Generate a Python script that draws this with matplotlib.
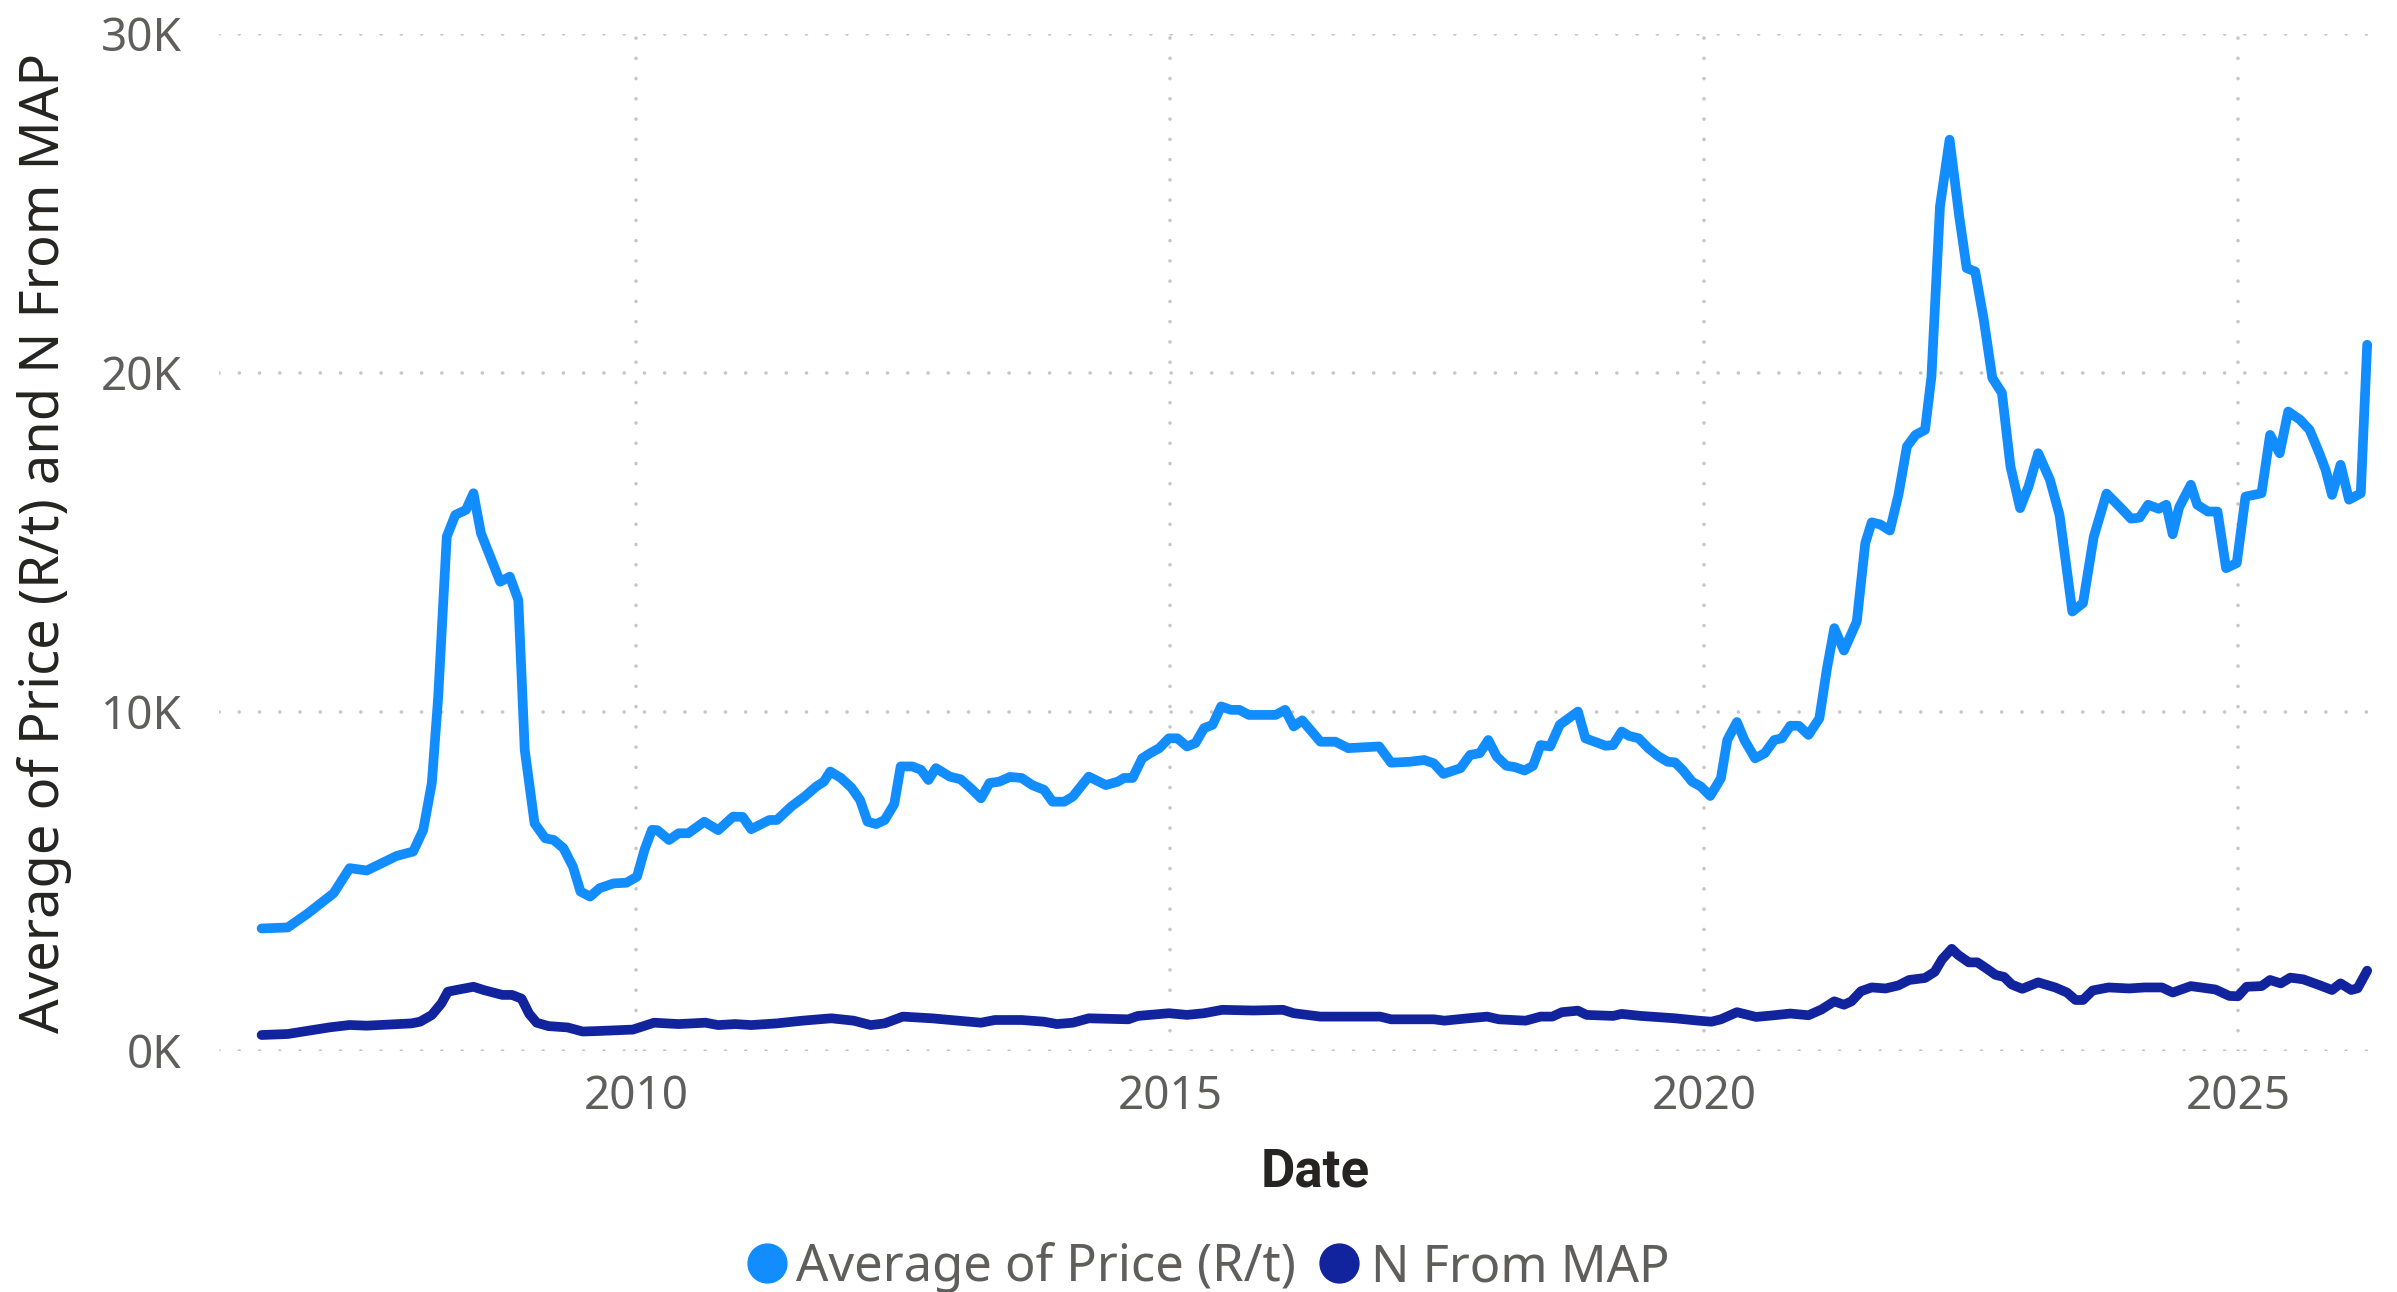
import matplotlib
matplotlib.use("Agg")
import matplotlib.pyplot as plt
import matplotlib.dates as mdates
from matplotlib.lines import Line2D
import pandas as pd

# PRICE (R/t) - vertices, x in decimal years
price_year = [
    2006.495, 2006.74, 2006.93, 2007.17, 2007.32, 2007.48, 2007.76, 2007.915,
    2008.01, 2008.09, 2008.15, 2008.23, 2008.31, 2008.41, 2008.48, 2008.55,
    2008.73, 2008.82, 2008.90, 2008.96, 2009.05, 2009.15, 2009.23, 2009.32,
    2009.41, 2009.48, 2009.57, 2009.66, 2009.79, 2009.91, 2010.01, 2010.08,
    2010.15, 2010.20, 2010.31, 2010.40, 2010.49, 2010.64, 2010.77, 2010.91,
    2011.00, 2011.08, 2011.25, 2011.32, 2011.46, 2011.58, 2011.69, 2011.76,
    2011.82, 2011.92, 2012.02, 2012.10, 2012.17, 2012.25, 2012.33, 2012.42,
    2012.48, 2012.59, 2012.67, 2012.74, 2012.81, 2012.94, 2013.04, 2013.15,
    2013.23, 2013.31, 2013.40, 2013.50, 2013.61, 2013.71, 2013.82, 2013.90,
    2014.01, 2014.09, 2014.24, 2014.40, 2014.51, 2014.57, 2014.65, 2014.74,
    2014.82, 2014.90, 2014.99, 2015.07, 2015.16, 2015.24, 2015.32, 2015.40,
    2015.48, 2015.57, 2015.65, 2015.74, 2015.99, 2016.08, 2016.16, 2016.24,
    2016.41, 2016.55, 2016.67, 2016.96, 2017.07, 2017.25, 2017.38, 2017.47,
    2017.56, 2017.72, 2017.81, 2017.90, 2017.98, 2018.06, 2018.15, 2018.23,
    2018.32, 2018.40, 2018.47, 2018.56, 2018.65, 2018.82, 2018.89, 2019.08,
    2019.15, 2019.23, 2019.30, 2019.39, 2019.48, 2019.57, 2019.66, 2019.73,
    2019.80, 2019.89, 2019.97, 2020.06, 2020.16, 2020.22, 2020.31, 2020.38,
    2020.48, 2020.57, 2020.66, 2020.73, 2020.81, 2020.89, 2020.98, 2021.08,
    2021.15, 2021.22, 2021.31, 2021.43, 2021.51, 2021.57, 2021.65, 2021.74,
    2021.82, 2021.90, 2021.98, 2022.07, 2022.13, 2022.21, 2022.30, 2022.39,
    2022.46, 2022.54, 2022.62, 2022.70, 2022.79, 2022.87, 2022.96, 2023.04,
    2023.13, 2023.24, 2023.33, 2023.45, 2023.55, 2023.65, 2023.77, 2023.90,
    2024.00, 2024.08, 2024.16, 2024.26, 2024.33, 2024.39, 2024.45, 2024.56,
    2024.62, 2024.72, 2024.81, 2024.89, 2024.99, 2025.07, 2025.22, 2025.30,
    2025.39, 2025.47, 2025.58, 2025.67, 2025.76, 2025.82, 2025.88, 2025.96,
    2026.04, 2026.15, 2026.21,
]
price = [
    3600, 3630, 4050, 4640, 5380, 5310, 5740, 5870,
    6510, 7890, 10440, 15160, 15800, 15950, 16440, 15260,
    13830, 13980, 13290, 8870, 6700, 6260, 6210, 5970,
    5420, 4690, 4540, 4790, 4930, 4950, 5130, 5920,
    6510, 6500, 6210, 6410, 6410, 6750, 6500, 6900,
    6890, 6530, 6800, 6800, 7210, 7490, 7790, 7930,
    8230, 8040, 7750, 7390, 6750, 6680, 6800, 7270,
    8380, 8380, 8280, 7980, 8330, 8080, 8000, 7690,
    7440, 7890, 7930, 8070, 8040, 7830, 7690, 7340,
    7340, 7490, 8080, 7830, 7930, 8040, 8040, 8620,
    8780, 8920, 9210, 9210, 8970, 9070, 9510, 9610,
    10150, 10050, 10050, 9900, 9900, 10050, 9560, 9740,
    9110, 9110, 8920, 8970, 8490, 8520, 8570, 8470,
    8160, 8330, 8720, 8770, 9160, 8670, 8400, 8360,
    8260, 8400, 9010, 8970, 9610, 10000, 9210, 8990,
    9010, 9410, 9280, 9210, 8920, 8690, 8520, 8500,
    8280, 7930, 7790, 7510, 8030, 9160, 9690, 9160,
    8620, 8770, 9160, 9210, 9580, 9580, 9310, 9800,
    11250, 12460, 11800, 12650, 14970, 15580, 15520, 15340,
    16390, 17820, 18160, 18310, 19880, 24900, 26870, 24610,
    23080, 22980, 21560, 19840, 19400, 17230, 16000, 16640,
    17620, 16840, 15800, 12950, 13200, 15150, 16430, 16020,
    15690, 15720, 16100, 15980, 16100, 15230, 16020, 16690,
    16100, 15900, 15900, 14230, 14380, 16340, 16440, 18160,
    17620, 18850, 18610, 18310, 17630, 17130, 16390, 17280,
    16250, 16440, 20820,
]

# N FROM MAP
n_year = [
    2006.495, 2006.74, 2007.135, 2007.32, 2007.48, 2007.90, 2007.98, 2008.09,
    2008.18, 2008.24, 2008.32, 2008.48, 2008.58, 2008.75, 2008.84, 2008.93,
    2009.00, 2009.07, 2009.18, 2009.36, 2009.50, 2009.65, 2009.97, 2010.17,
    2010.40, 2010.65, 2010.77, 2010.93, 2011.08, 2011.32, 2011.56, 2011.83,
    2012.04, 2012.20, 2012.33, 2012.50, 2012.77, 2013.02, 2013.23, 2013.36,
    2013.61, 2013.82, 2013.94, 2014.09, 2014.24, 2014.61, 2014.70, 2014.99,
    2015.16, 2015.32, 2015.49, 2015.78, 2016.06, 2016.16, 2016.41, 2016.97,
    2017.07, 2017.47, 2017.57, 2017.79, 2017.97, 2018.08, 2018.33, 2018.47,
    2018.58, 2018.67, 2018.82, 2018.90, 2019.15, 2019.23, 2019.41, 2019.73,
    2019.95, 2020.07, 2020.16, 2020.31, 2020.49, 2020.66, 2020.81, 2020.98,
    2021.10, 2021.22, 2021.31, 2021.38, 2021.47, 2021.57, 2021.70, 2021.82,
    2021.92, 2022.07, 2022.16, 2022.23, 2022.32, 2022.38, 2022.48, 2022.56,
    2022.65, 2022.73, 2022.81, 2022.88, 2022.98, 2023.13, 2023.29, 2023.40,
    2023.48, 2023.55, 2023.64, 2023.79, 2023.98, 2024.13, 2024.29, 2024.39,
    2024.56, 2024.79, 2024.92, 2025.00, 2025.08, 2025.22, 2025.30, 2025.40,
    2025.49, 2025.61, 2025.76, 2025.88, 2025.96, 2026.06, 2026.12, 2026.21,
]
n_map = [
    457, 487, 684, 752, 732, 800, 850, 1048,
    1390, 1735, 1785, 1880, 1780, 1640, 1640, 1530,
    1080, 820, 720, 680, 560, 575, 617, 820,
    780, 820, 750, 780, 750, 800, 880, 950,
    880, 750, 800, 1000, 950, 880, 820, 900,
    900, 850, 780, 820, 950, 920, 1020, 1100,
    1050, 1100, 1200, 1180, 1200, 1100, 1000, 1000,
    920, 920, 880, 950, 1000, 920, 880, 1000,
    1000, 1130, 1175, 1050, 1020, 1080, 1020, 950,
    880, 850, 920, 1130, 990, 1040, 1090, 1040,
    1210, 1450, 1350, 1450, 1750, 1860, 1830, 1920,
    2080, 2140, 2320, 2690, 3000, 2820, 2600, 2600,
    2410, 2230, 2170, 1950, 1820, 2010, 1860, 1710,
    1490, 1490, 1770, 1860, 1830, 1860, 1860, 1710,
    1900, 1800, 1610, 1600, 1880, 1900, 2080, 1980,
    2150, 2100, 1930, 1785, 1980, 1785, 1835, 2355,
]

y_ticks = [0, 10000, 20000, 30000]
y_tick_labels = ["0K", "10K", "20K", "30K"]
x_tick_years = [2010, 2015, 2020, 2025]

PRICE_COLOR = "#118DFF"
N_COLOR = "#12239E"
GRID_COLOR = "#C8C6C4"
TICK_COLOR = "#605E5C"
LABEL_COLOR = "#252423"

W, H = 2397, 1292


# DECIMAL YEAR -> TIMESTAMP
def to_dates(years):
    out = []
    for y in years:
        yr = int(y)
        out.append(pd.Timestamp(yr, 1, 1) + pd.Timedelta(days=(y - yr) * 365.25))
    return out


plt.rcParams['font.family'] = ['Noto Sans', 'DejaVu Sans']

fig = plt.figure(figsize=(W / 100, H / 100), dpi=100)
left, right, top, bottom = 219, 2380, 33.6, 1050.5
ax = fig.add_axes([left / W, 1 - bottom / H, (right - left) / W, (bottom - top) / H])

ax.plot(to_dates(n_year), n_map, color=N_COLOR, lw=7,
        solid_joinstyle="round", solid_capstyle="round", zorder=3)
ax.plot(to_dates(price_year), price, color=PRICE_COLOR, lw=7,
        solid_joinstyle="round", solid_capstyle="round", zorder=4)

ax.set_ylim(0, 30000)
ax.set_xlim(to_dates([2006.096, 2026.33]))

ax.set_yticks(y_ticks)
ax.set_yticklabels(y_tick_labels)
ax.set_xticks(to_dates(x_tick_years))
ax.xaxis.set_major_formatter(mdates.DateFormatter("%Y"))
ax.tick_params(axis="both", length=0, labelsize=33, labelcolor=TICK_COLOR)
ax.tick_params(axis="y", pad=27)
ax.tick_params(axis="x", pad=17)

ax.grid(True, color=GRID_COLOR, lw=2.6, linestyle=(0, (0.01, 5.6)),
        dash_capstyle="round")
ax.set_axisbelow(True)
for s in ax.spines.values():
    s.set_visible(False)

# AXIS TITLES
fig.text(44 / W, 1 - 543 / H, "Average of Price (R/t) and N From MAP",
         rotation=90, ha="center", va="center", fontsize=39, color=LABEL_COLOR)
fig.text(1315 / W, 1 - 1172 / H, "Date", ha="center", va="center",
         fontsize=38, fontweight="bold", color=LABEL_COLOR,
         family=["Roboto", "DejaVu Sans"])

# LEGEND
leg_y = 1 - 1263 / H
base_y = 1 - 1281 / H
for cx, tx, label, c in [(767, 796, "Average of Price (R/t)", PRICE_COLOR),
                         (1339, 1371, "N From MAP", N_COLOR)]:
    fig.add_artist(Line2D([cx / W], [leg_y], marker="o", markersize=28,
                          color=c, transform=fig.transFigure))
    fig.text(tx / W, base_y, label, ha="left", va="baseline", fontsize=36.5,
             color=TICK_COLOR)

fig.savefig("out.png", dpi=100, facecolor="white")
